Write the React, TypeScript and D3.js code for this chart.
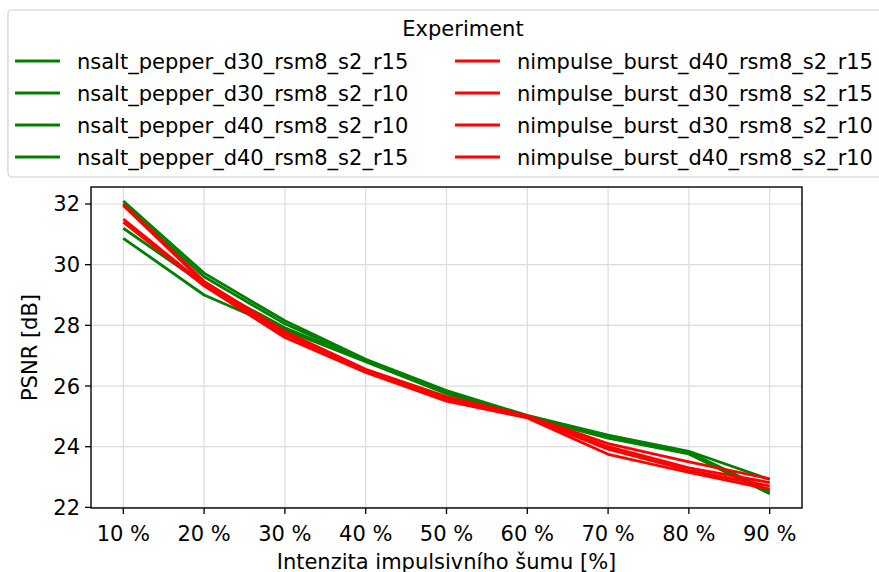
import React from "react";
import * as d3 from "d3";

const categories = ["10 %", "20 %", "30 %", "40 %", "50 %", "60 %", "70 %", "80 %", "90 %"];
const xValues = [10, 20, 30, 40, 50, 60, 70, 80, 90];
const yTicks = [22, 24, 26, 28, 30, 32];

const seriesNames = [
  "nsalt_pepper_d30_rsm8_s2_r15",
  "nsalt_pepper_d30_rsm8_s2_r10",
  "nsalt_pepper_d40_rsm8_s2_r10",
  "nsalt_pepper_d40_rsm8_s2_r15",
  "nimpulse_burst_d40_rsm8_s2_r15",
  "nimpulse_burst_d30_rsm8_s2_r15",
  "nimpulse_burst_d30_rsm8_s2_r10",
  "nimpulse_burst_d40_rsm8_s2_r10",
];
const seriesColors = ["green", "green", "green", "green", "red", "red", "red", "red"];

const g1 = [32.1, 29.72, 28.15, 26.88, 25.85, 25.03, 24.38, 23.85, 22.92];
const g2 = [32.0, 29.6, 28.05, 26.85, 25.8, 25.0, 24.33, 23.82, 22.55];
const g3 = [31.2, 29.35, 27.92, 26.82, 25.78, 25.0, 24.3, 23.78, 22.5];
const g4 = [30.87, 29.0, 27.85, 26.8, 25.75, 24.98, 24.28, 23.76, 22.45];
const r1 = [32.0, 29.45, 27.8, 26.55, 25.65, 25.02, 24.1, 23.5, 22.94];
const r2 = [31.95, 29.4, 27.75, 26.5, 25.6, 25.0, 24.0, 23.3, 22.82];
const r3 = [31.5, 29.35, 27.7, 26.48, 25.55, 24.97, 23.92, 23.22, 22.7];
const r4 = [31.4, 29.3, 27.6, 26.45, 25.5, 24.95, 23.75, 23.15, 22.6];
const seriesValues = [g1, g2, g3, g4, r1, r2, r3, r4];

const FONT = "DejaVu Sans, sans-serif";
const FS = 21;

export default function App() {
  const W = 879, H = 572;
  const left = 91, right = 802, top = 187, bottom = 508;
  const x = d3.scaleLinear().domain([6, 94]).range([left, right]);
  const y = d3.scaleLinear().domain([21.98, 32.56]).range([bottom, top]);
  const line = d3.line<number>().x((_, i) => x(xValues[i])).y((v) => y(v));

  const legendRows = [61, 93, 125, 157];

  return (
    <>
      <style>{"body{margin:0}"}</style>
      <svg width={W} height={H} style={{ display: "block", fontFamily: FONT }}>
        <rect width={W} height={H} fill="white" />
        {/* grid */}
        {xValues.map((v) => (
          <line key={"gx" + v} x1={x(v)} x2={x(v)} y1={top} y2={bottom} stroke="#dcdcdc" strokeWidth={1.2} />
        ))}
        {yTicks.map((v) => (
          <line key={"gy" + v} x1={left} x2={right} y1={y(v)} y2={y(v)} stroke="#dcdcdc" strokeWidth={1.2} />
        ))}
        {/* lines */}
        {seriesValues.map((vals, i) => (
          <path key={"s" + i} d={line(vals) || ""} fill="none" stroke={seriesColors[i]} strokeWidth={2.8} strokeLinejoin="round" />
        ))}
        {/* axes frame */}
        <rect x={left} y={top} width={right - left} height={bottom - top} fill="none" stroke="black" strokeWidth={1.4} />
        {/* x ticks */}
        {xValues.map((v, i) => (
          <g key={"tx" + v}>
            <line x1={x(v)} x2={x(v)} y1={bottom} y2={bottom + 6} stroke="black" strokeWidth={1.3} />
            <text x={x(v)} y={bottom + 33} textAnchor="middle" fontSize={FS} fill="black">{categories[i]}</text>
          </g>
        ))}
        {/* y ticks */}
        {yTicks.map((v) => (
          <g key={"ty" + v}>
            <line x1={left - 6} x2={left} y1={y(v)} y2={y(v)} stroke="black" strokeWidth={1.3} />
            <text x={left - 11} y={y(v) + 7.5} textAnchor="end" fontSize={FS} fill="black">{v}</text>
          </g>
        ))}
        <text x={(left + right) / 2} y={569} textAnchor="middle" fontSize={FS} fill="black">Intenzita impulsivního šumu [%]</text>
        <text transform={`translate(37,${(top + bottom) / 2}) rotate(-90)`} textAnchor="middle" fontSize={FS} fill="black">PSNR [dB]</text>
        {/* legend */}
        <rect x={8} y={10} width={910} height={167} rx={4} fill="white" fillOpacity={0.8} stroke="#d0d0d0" strokeWidth={1.2} />
        <text x={463} y={36} textAnchor="middle" fontSize={FS} fill="black">Experiment</text>
        {seriesNames.map((name, i) => {
          const col = i < 4 ? 0 : 1;
          const row = i % 4;
          const hx = col === 0 ? 15 : 455;
          const cy = legendRows[row];
          return (
            <g key={"lg" + i}>
              <line x1={hx} x2={hx + 45} y1={cy} y2={cy} stroke={seriesColors[i]} strokeWidth={2.8} />
              <text x={hx + 62} y={cy + 7.5} fontSize={FS} fill="black">{name}</text>
            </g>
          );
        })}
      </svg>
    </>
  );
}
